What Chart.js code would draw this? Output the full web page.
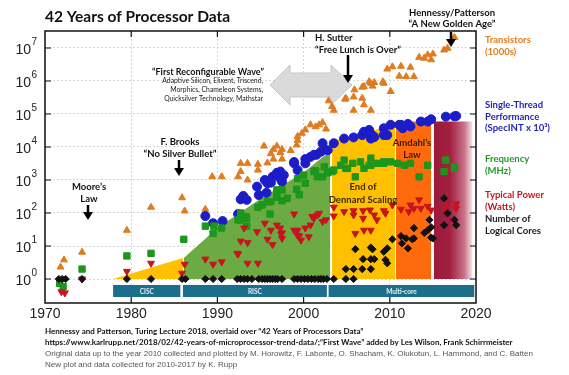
<!DOCTYPE html>
<html>
<head>
<meta charset="utf-8">
<script src="https://cdn.jsdelivr.net/npm/chart.js@4.4.1/dist/chart.umd.min.js"></script>
<style>
  html, body { margin: 0; padding: 0; background: #fff; }
  #wrap { width: 569px; height: 375px; }
</style>
</head>
<body>
<div id="wrap"><canvas id="procChart" width="569" height="375"></canvas></div>
<script>
// [year, value]
const transistors = [
  [1971.8, 2.3], [1972.2, 3.8], [1974.3, 6.5], [1979.5, 30], [1982.3, 150], [1985.9, 290], [1986.2, 115],
  [1988.6, 130], [1989.4, 1260], [1990.5, 1260], [1992.4, 1260], [1992.7, 1800], [1992.7, 3200], [1993.5, 3200],
  [1993.5, 1000], [1994.7, 3000], [1994.7, 2000], [1995.4, 10700], [1995.8, 3300], [1996.2, 6300], [1996.5, 8500],
  [1996.9, 10700], [1996.5, 4300], [1997.5, 8500], [1997.5, 4300], [1997.3, 6800], [1998.5, 7800], [1999.2, 11500],
  [1999.3, 16000], [1999.3, 21000], [1999.8, 26000], [2000.2, 33000], [2000.8, 47000], [2001.4, 41000], [2001.8, 47000],
  [2002.2, 55000], [2002.6, 35000], [2002.9, 250000], [2003.3, 170000], [2003.5, 130000], [2004.8, 280000], [2004.9, 300000],
  [2005.8, 330000], [2005.8, 130000], [2005.9, 540000], [2006.8, 300000], [2006.8, 650000], [2007.0, 190000], [2007.0, 680000],
  [2007.6, 950000], [2007.8, 850000], [2007.8, 130000], [2008.0, 700000], [2008.2, 900000], [2009.2, 950000], [2009.3, 850000],
  [2009.7, 2300000], [2010.1, 480000], [2010.3, 2700000], [2011.1, 1400000], [2011.3, 2800000], [2011.9, 1350000],
  [2012.4, 2600000], [2012.8, 1350000], [2013.4, 5200000], [2014.0, 4900000], [2014.4, 6200000], [2014.8, 4400000],
  [2015.0, 6600000], [2016.3, 8700000], [2016.7, 9800000], [2017.5, 21000000]
];
const singleThread = [
  [1988.6, 81], [1989.5, 49], [1990.6, 57], [1992.4, 93], [1992.7, 260], [1993.0, 330], [1993.4, 250], [1994.6, 630],
  [1994.8, 350], [1995.5, 1000], [1995.7, 410], [1995.8, 800], [1996.2, 830], [1996.4, 1250], [1996.9, 1650], [1997.3, 1800],
  [1997.3, 1100], [1997.5, 890], [1997.7, 1400], [1998.9, 3200], [1998.9, 3500], [1999.3, 2000], [2000.2, 3200], [2000.2, 4300],
  [2000.8, 5000], [2001.2, 5800], [2001.5, 5800], [2002.0, 7200], [2002.2, 13000], [2002.8, 8000], [2003.5, 13000],
  [2004.7, 18000], [2005.8, 19500], [2006.8, 23000], [2007.0, 29000], [2007.6, 33000], [2007.8, 18000], [2007.8, 25000],
  [2008.1, 21000], [2008.2, 20000], [2009.3, 37000], [2009.3, 23000], [2009.7, 23000], [2010.1, 47000], [2011.1, 47000],
  [2011.3, 47000], [2011.5, 37000], [2012.1, 50000], [2012.4, 42000], [2013.6, 59000], [2014.4, 59000], [2014.8, 69000],
  [2016.5, 83000], [2017.5, 85000], [2017.7, 87000]
];
const frequency = [
  [1971.7, 0.74], [1972.1, 0.59], [1974.3, 2], [1979.5, 5], [1982.3, 6], [1986.1, 16], [1988.6, 40], [1989.5, 24],
  [1989.6, 40], [1990.5, 35], [1992.4, 62], [1992.6, 62], [1992.7, 100], [1993.3, 78], [1993.4, 69], [1993.4, 40],
  [1994.7, 150], [1995.2, 175], [1995.8, 220], [1996.1, 93], [1996.2, 220], [1996.9, 300], [1996.9, 500], [1996.9, 400],
  [1997.5, 235], [1997.5, 500], [1998.1, 280], [1999.2, 525], [1999.3, 1100], [1999.5, 355], [2000.0, 1400], [2000.2, 800],
  [2001.2, 1800], [2001.4, 1900], [2001.6, 1250], [2002.2, 1250], [2002.4, 2500], [2002.8, 1650], [2003.3, 1800],
  [2003.5, 2000], [2004.3, 2800], [2004.7, 4000], [2004.9, 2250], [2005.1, 2250], [2005.7, 3200], [2006.0, 1250],
  [2006.6, 3550], [2007.0, 2250], [2007.6, 2800], [2007.8, 4600], [2007.8, 2800], [2008.6, 3200], [2009.3, 3550],
  [2009.3, 3200], [2010.1, 3550], [2010.9, 3200], [2011.7, 2800], [2012.4, 3200], [2013.4, 1250], [2014.4, 2800],
  [2016.3, 1800], [2016.5, 4000], [2017.5, 2250], [2017.5, 2500]
];
const power = [
  [1971.9, 0.41], [1972.3, 0.38], [1974.3, 1.0], [1979.5, 1.7], [1982.3, 3.0], [1985.9, 1.5], [1986.2, 2.8], [1988.6, 4],
  [1989.5, 2.8], [1990.5, 3.3], [1992.3, 6], [1992.4, 5.7], [1992.7, 14], [1993.1, 35], [1993.5, 12.6], [1993.5, 3],
  [1994.6, 27], [1994.7, 3], [1995.5, 49], [1995.8, 16], [1996.2, 30], [1996.4, 11], [1996.9, 43], [1997.3, 35],
  [1997.4, 23], [1997.5, 17], [1997.5, 25], [1998.9, 30], [1998.9, 93], [1999.3, 21], [1999.3, 30], [1999.5, 20],
  [1999.7, 15], [2000.2, 35], [2000.6, 19], [2000.8, 43], [2001.0, 78], [2001.2, 69], [2001.6, 87], [2001.8, 98],
  [2002.2, 55], [2002.6, 62], [2003.5, 150], [2003.5, 81], [2004.7, 110], [2005.8, 117], [2005.8, 87], [2006.0, 24],
  [2006.9, 117], [2006.9, 69], [2007.0, 30], [2007.7, 123], [2007.8, 30], [2008.2, 87], [2008.5, 62], [2009.3, 117],
  [2009.5, 98], [2010.3, 175], [2011.3, 130], [2012.2, 110], [2012.4, 175], [2012.8, 138], [2013.4, 250], [2013.6, 138],
  [2014.4, 160], [2014.8, 123], [2016.5, 280], [2016.5, 138], [2017.7, 190], [2017.7, 138]
];
const cores = [
  [1971.6, 1], [1972.0, 1], [1972.4, 1], [1974.3, 1], [1979.5, 1], [1982.3, 1], [1985.9, 1], [1986.3, 1], [1988.6, 1],
  [1989.5, 1], [1990.5, 1], [1992.3, 1], [1992.7, 1], [1993.1, 1], [1993.5, 1], [1994.0, 1], [1994.8, 1], [1995.2, 1],
  [1995.5, 1], [1995.8, 1], [1996.1, 1], [1996.4, 1], [1996.7, 1], [1997.0, 1], [1997.5, 1], [1998.9, 1], [1999.3, 1],
  [1999.7, 1], [2000.1, 1], [2000.5, 1], [2000.9, 1], [2001.3, 1], [2001.7, 1], [2002.0, 1], [2002.3, 1], [2002.7, 1],
  [2003.5, 1], [2004.9, 1], [2005.8, 1],
  [2004.9, 2], [2005.8, 2], [2006.8, 2], [2007.8, 2], [2006.0, 8], [2006.9, 4], [2007.8, 4], [2008.2, 4], [2007.8, 9],
  [2008.0, 8], [2009.3, 6.7], [2009.5, 3.8], [2009.7, 3], [2009.7, 8.5], [2010.3, 16], [2011.3, 20], [2011.4, 12],
  [2011.9, 17], [2012.1, 8.5], [2012.6, 16], [2012.8, 17], [2012.8, 35], [2014.0, 25], [2014.4, 30], [2014.6, 62],
  [2014.8, 37], [2014.8, 18], [2015.0, 17], [2016.3, 280], [2016.3, 43], [2016.7, 98], [2017.5, 62], [2017.7, 43]
];

// shaded eras (outline of each area, filled down to 10^0)
const ciscWedge = [[1977.9, 1], [1986.0, 4.3]];
const riscArea = [[1986.1, 4.3], [1990, 35], [1995, 270], [2000, 1700], [2003.1, 7500]];
const dennardArea = [[2003.3, 15000], [2007, 28000], [2010.6, 45000]];
const amdahlArea = [[2010.7, 59000], [2014.8, 59000]];
const lastArea = [[2015.1, 59000], [2019.6, 59000]];

const eraNames = ["CISC", "RISC", "Multi-core"];
const eraStart = [1977.9, 1986.0, 2002.9];
const eraEnd = [1985.7, 2002.7, 2019.8];

const xTicks = [1970, 1980, 1990, 2000, 2010, 2020];
const yExps = [0, 1, 2, 3, 4, 5, 6, 7];

const toPts = arr => arr.map(p => ({ x: p[0], y: p[1] }));

function areaSet(arr, color) {
  return {
    data: toPts(arr), showLine: true, borderWidth: 0, pointRadius: 0,
    backgroundColor: color, fill: { value: 1 }, order: 10
  };
}

function arrowDown(ctx, x, y1, y2) {
  ctx.save();
  ctx.strokeStyle = "#000";
  ctx.fillStyle = "#000";
  ctx.lineWidth = 2.5;
  ctx.beginPath(); ctx.moveTo(x, y1); ctx.lineTo(x, y2 - 7); ctx.stroke();
  ctx.beginPath(); ctx.moveTo(x - 5, y2 - 8); ctx.lineTo(x + 5, y2 - 8); ctx.lineTo(x, y2); ctx.closePath(); ctx.fill();
  ctx.restore();
}

function textLines(ctx, list, x, y, dy, font, color, align) {
  ctx.save();
  ctx.font = font;
  ctx.fillStyle = color;
  ctx.textAlign = align || "center";
  ctx.textBaseline = "middle";
  list.forEach((t, i) => ctx.fillText(t, x, y + i * dy));
  ctx.restore();
}

const overlay = {
  id: "overlay",
  beforeDatasetsDraw(chart) {
    const ctx = chart.ctx;
    // grey double arrow
    ctx.save();
    ctx.fillStyle = "#dadada";
    ctx.strokeStyle = "#c6c6c6";
    ctx.lineWidth = 1;
    ctx.beginPath();
    ctx.moveTo(270, 85); ctx.lineTo(290, 65); ctx.lineTo(290, 73); ctx.lineTo(331, 73); ctx.lineTo(331, 65);
    ctx.lineTo(352, 85); ctx.lineTo(331, 105); ctx.lineTo(331, 97); ctx.lineTo(290, 97); ctx.lineTo(290, 105);
    ctx.closePath(); ctx.fill(); ctx.stroke();
    ctx.restore();
  },
  afterDatasetsDraw(chart) {
    const ctx = chart.ctx;
    const x = chart.scales.x, y = chart.scales.y;
    // era bands under 10^0
    const yt = y.getPixelForValue(0.66), yb = y.getPixelForValue(0.285);
    eraNames.forEach((name, i) => {
      const x0 = x.getPixelForValue(eraStart[i]), x1 = x.getPixelForValue(eraEnd[i]);
      ctx.fillStyle = "#1c6e8d";
      ctx.fillRect(x0, yt, x1 - x0, yb - yt);
      textLines(ctx, [name], (x0 + x1) / 2, (yt + yb) / 2 + 0.5, 0, "bold 6.5px Lato", "#e8f2f6");
    });
    const b = "bold 9.5px Lato";
    textLines(ctx, ["End of", "Dennard Scaling"], 363, 187, 12.5, b, "#3a2a05");
    textLines(ctx, ["Amdahl\u2019s", "Law"], 412, 143, 11.5, b, "#3a1a05");
    textLines(ctx, ["Moore\u2019s", "Law"], 89, 187, 11.5, b, "#111");
    arrowDown(ctx, 88, 205, 220);
    textLines(ctx, ["F. Brooks", "\u201CNo Silver Bullet\u201D"], 180, 142, 12, b, "#111");
    arrowDown(ctx, 179, 160, 176);
    textLines(ctx, ["H. Sutter", "\u201CFree Lunch is Over\u201D"], 315, 38, 12, b, "#111", "left");
    arrowDown(ctx, 348, 55, 83);
    textLines(ctx, ["\u201CFirst Reconfigurable Wave\u201D"], 208, 72, 0, "bold 9px Lato", "#111");
    textLines(ctx, ["Adaptive Silicon, Elixent, Triscend,", "Morphics, Chameleon Systems,", "Quicksilver Technology, Mathstar"],
      263, 81, 9, "6.8px Lato", "#222", "right");
  },
  afterDraw(chart) {
    const ctx = chart.ctx;
    const a = chart.chartArea;
    const x = chart.scales.x, y = chart.scales.y;
    // frame with inside ticks
    ctx.save();
    ctx.strokeStyle = "#111";
    ctx.lineWidth = 1.5;
    ctx.strokeRect(a.left, a.top, a.right - a.left, a.bottom - a.top);
    ctx.lineWidth = 1.2;
    ctx.beginPath();
    xTicks.slice(1, -1).forEach(v => {
      const px = x.getPixelForValue(v);
      ctx.moveTo(px, a.top); ctx.lineTo(px, a.top + 6);
      ctx.moveTo(px, a.bottom); ctx.lineTo(px, a.bottom - 6);
    });
    yExps.forEach(e => {
      const py = y.getPixelForValue(Math.pow(10, e));
      ctx.moveTo(a.left, py); ctx.lineTo(a.left + 6, py);
      ctx.moveTo(a.right, py); ctx.lineTo(a.right - 6, py);
    });
    ctx.stroke();
    ctx.restore();
    // y labels 10^n
    ctx.save();
    ctx.fillStyle = "#222";
    ctx.textBaseline = "middle";
    yExps.forEach(e => {
      const py = y.getPixelForValue(Math.pow(10, e));
      ctx.font = '14px "Liberation Sans"';
      ctx.textAlign = "right";
      ctx.fillText("10", 31, py + 2);
      ctx.font = '10px "Liberation Sans"';
      ctx.textAlign = "left";
      ctx.fillText(String(e), 31.5, py - 6);
    });
    ctx.restore();
    // title
    textLines(ctx, ["42 Years of Processor Data"], 45, 17, 0, "bold 15.5px Lato", "#111", "left");
    // legend on the right
    const lf = "bold 9.5px Lato";
    textLines(ctx, ["Transistors", "(1000s)"], 485, 40, 12, lf, "#e07b1f", "left");
    textLines(ctx, ["Single-Thread", "Performance", "(SpecINT x 10\u00B3)"], 485, 105, 11.5, lf, "#2323b8", "left");
    textLines(ctx, ["Frequency", "(MHz)"], 485, 159, 12, lf, "#239b23", "left");
    textLines(ctx, ["Typical Power", "(Watts)"], 485, 195, 12, lf, "#c0171c", "left");
    textLines(ctx, ["Number of", "Logical Cores"], 485, 219, 12, lf, "#222", "left");
    textLines(ctx, ["Hennessy/Patterson", "\u201CA New Golden Age\u201D"], 452, 13, 11, lf, "#111");
    arrowDown(ctx, 451, 32, 47);
    // footer
    ctx.save();
    ctx.textBaseline = "middle";
    ctx.textAlign = "left";
    ctx.fillStyle = "#111";
    ctx.font = "bold 8px Lato";
    ctx.fillText("Hennessy and Patterson, Turing Lecture 2018, overlaid over \u201C42 Years of Processors Data\u201D", 45, 331, 331);
    ctx.fillText("https://www.karlrupp.net/2018/02/42-years-of-microprocessor-trend-data/;\u201CFirst Wave\u201D added by Les Wilson, Frank Schirrmeister", 45, 342, 482);
    ctx.fillStyle = "#555";
    ctx.font = '8px "Liberation Sans"';
    ctx.fillText("Original data up to the year 2010 collected and plotted by M. Horowitz, F. Labonte, O. Shacham, K. Olukotun, L. Hammond, and C. Batten", 45, 354, 498);
    ctx.fillText("New plot and data collected for 2010-2017 by K. Rupp", 45, 365, 196);
    ctx.restore();
  }
};

const lastGradient = context => {
  const chart = context.chart;
  if (!chart.chartArea) return "#9e1c3c";
  const xs = chart.scales.x;
  const g = chart.ctx.createLinearGradient(xs.getPixelForValue(2015.1), 0, xs.getPixelForValue(2019.8), 0);
  g.addColorStop(0, "#9b1a3a");
  g.addColorStop(0.4, "#a21f40");
  g.addColorStop(0.75, "#c87088");
  g.addColorStop(1, "#ffffff");
  return g;
};

const ctx = document.getElementById("procChart").getContext("2d");
new Chart(ctx, {
  type: "scatter",
  data: {
    datasets: [
      { data: toPts(transistors), pointStyle: "triangle", pointRadius: 4, backgroundColor: "#e07b1f", borderColor: "#e07b1f", borderWidth: 1, order: 5 },
      { data: toPts(singleThread), pointStyle: "circle", pointRadius: 4.5, backgroundColor: "#1c1cc8", borderColor: "#1c1cc8", borderWidth: 1, order: 4 },
      { data: toPts(frequency), pointStyle: "rect", pointRadius: 4.5, backgroundColor: "#1c961c", borderColor: "#1c961c", borderWidth: 1, order: 3 },
      { data: toPts(power), pointStyle: "triangle", rotation: 180, pointRadius: 4, backgroundColor: "#c8141e", borderColor: "#c8141e", borderWidth: 1, order: 2 },
      { data: toPts(cores), pointStyle: "rectRot", pointRadius: 3.6, backgroundColor: "#111", borderColor: "#111", borderWidth: 1, order: 1 },
      areaSet(ciscWedge, "#ffc000"),
      areaSet(riscArea, "#6cab44"),
      areaSet(dennardArea, "#ffc000"),
      areaSet(amdahlArea, "#ff6b0c"),
      areaSet(lastArea, lastGradient)
    ]
  },
  options: {
    responsive: false,
    animation: false,
    layout: { padding: { top: 31, right: 93, bottom: 50, left: 0 } },
    plugins: { legend: { display: false }, tooltip: { enabled: false } },
    scales: {
      x: {
        type: "linear", min: 1970, max: 2020,
        afterBuildTicks: s => { s.ticks = xTicks.map(v => ({ value: v })); },
        afterFit: s => { s.height = 22; },
        ticks: { callback: v => String(v), color: "#222", font: { family: "Liberation Sans", size: 14 }, padding: 3, maxRotation: 0 },
        grid: { color: "#cfcfcf", lineWidth: 0.8, drawTicks: false },
        border: { display: false, dash: [2, 2] }
      },
      y: {
        type: "logarithmic", min: 0.1875, max: 32700000,
        afterBuildTicks: s => { s.ticks = yExps.map(e => ({ value: Math.pow(10, e) })); },
        afterFit: s => { s.width = 45; },
        ticks: { display: false },
        grid: { color: "#cfcfcf", lineWidth: 0.8, drawTicks: false },
        border: { display: false, dash: [2, 2] }
      }
    }
  },
  plugins: [overlay]
});
</script>
</body>
</html>
